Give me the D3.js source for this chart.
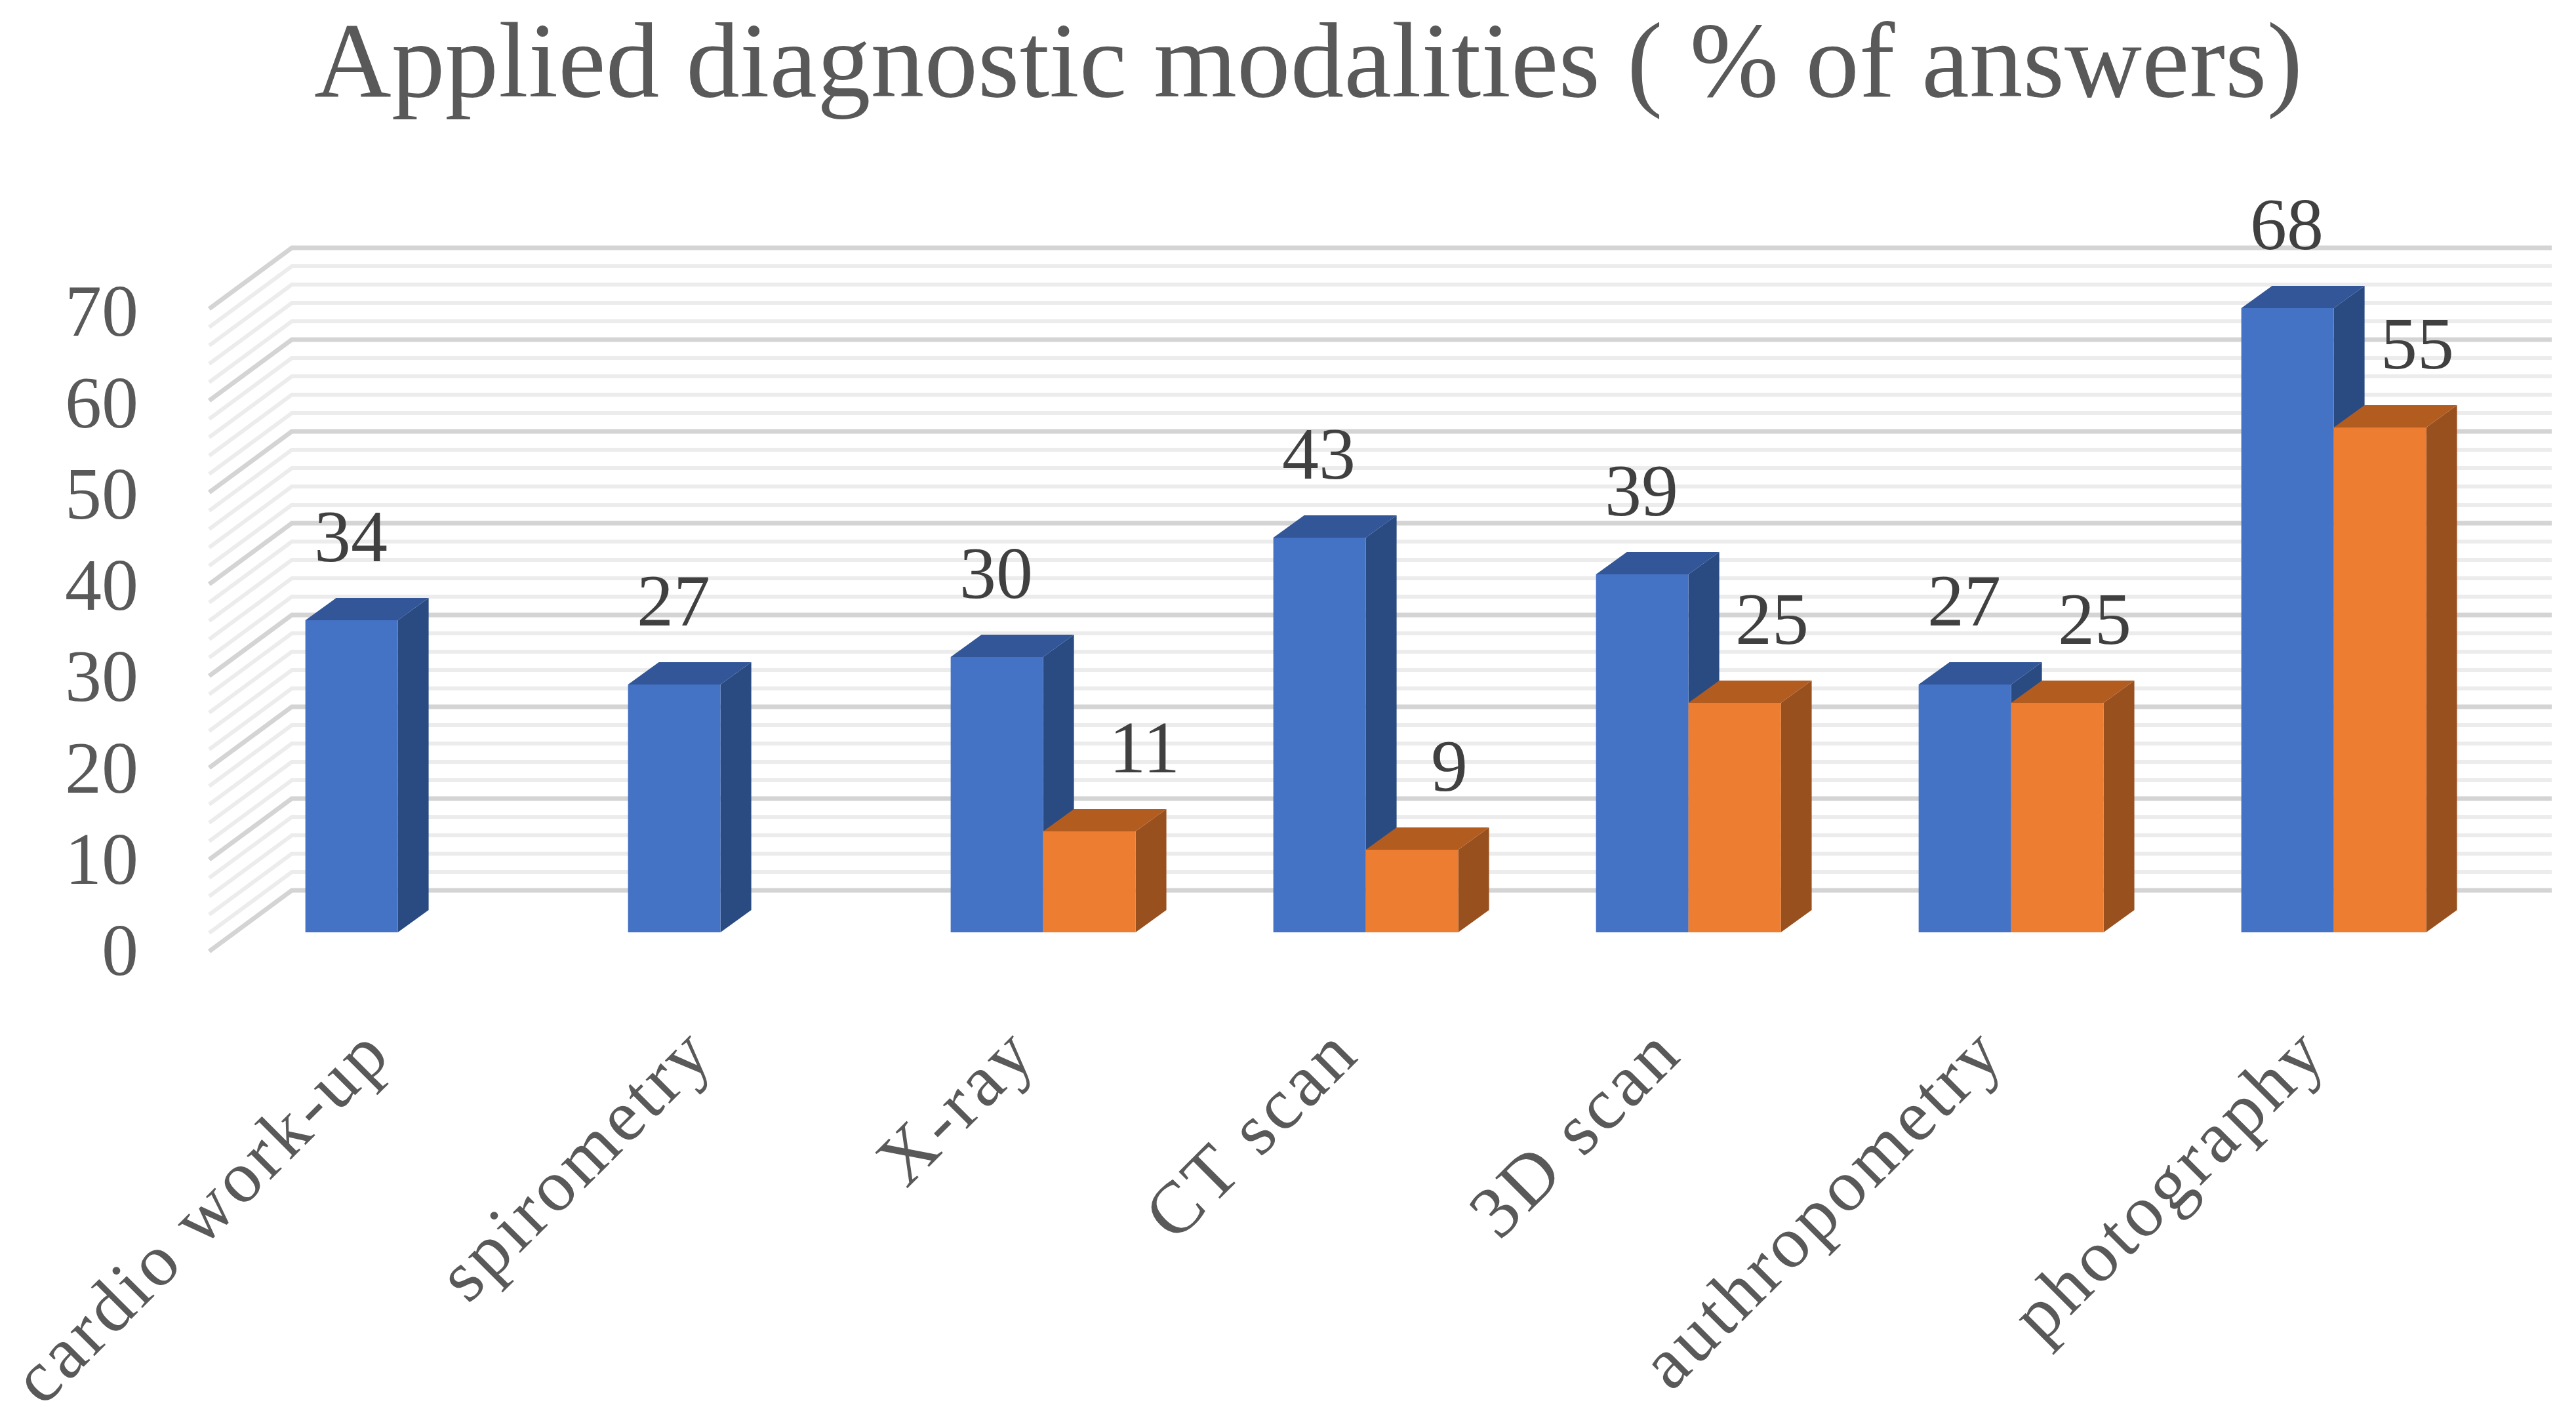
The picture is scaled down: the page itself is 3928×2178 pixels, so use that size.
<!DOCTYPE html>
<html>
<head>
<meta charset="utf-8">
<title>Applied diagnostic modalities</title>
<script src="https://d3js.org/d3.v7.min.js"></script>
<style>
  html, body { margin: 0; padding: 0; background: #fff; }
  svg { display: block; }
  text { font-family: "Liberation Serif", serif; }
  .xAxis .domain, .xAxis .tick line, .yAxis .domain, .yAxis .tick line { display: none; }
</style>
</head>
<body>
<svg width="3928" height="2178"></svg>
<script>
var categories = ["cardio work-up", "spirometry", "X-ray", "CT scan", "3D scan", "authropometry", "photography"];
var seriesA = [34, 27, 30, 43, 39, 27, 68];
var seriesB = [null, null, 11, 9, 25, 25, 55];
var yTicks = [0, 10, 20, 30, 40, 50, 60, 70];
var minorTicks = d3.range(0, 71, 2);
var titleText = "Applied diagnostic modalities ( % of answers)";

var svg = d3.select("svg");

var x0 = d3.scaleBand().domain(categories).range([360.6, 3804.6])
  .paddingInner(0.427).paddingOuter(0.2135);
var x1 = d3.scaleBand().domain(["a", "b"]).range([0, x0.bandwidth()]);
var y = d3.scaleLinear().domain([0, 70]).range([1422, 442]);
// tick labels sit on the front edge of the wall, slightly tighter than the bars
var yLabels = d3.scaleLinear().domain([0, 70]).range([1451, 476]);

// 3D offsets
var depthX = 47, depthY = 34;
var wallFrontX = 319, wallBackX = 445, wallRightX = 3891;
var wallFrontDy = 29, wallBackDy = -64;

svg.append("text")
  .attr("x", 1995).attr("y", 147)
  .attr("text-anchor", "middle")
  .attr("font-size", 163)
  .attr("fill", "#595959")
  .attr("textLength", 3032)
  .attr("lengthAdjust", "spacing")
  .text(titleText);

// walls: minor first so the major lines sit on top
var wall = svg.append("g").attr("fill", "none");
wall.selectAll("path.minor")
  .data(minorTicks.filter(function(d) { return d % 10 !== 0; }))
  .enter().append("path")
  .attr("class", "minor")
  .attr("stroke", "#ececec").attr("stroke-width", 6)
  .attr("d", function(d) {
    return "M" + wallFrontX + "," + (y(d) + wallFrontDy) + "L" + wallBackX + "," + (y(d) + wallBackDy) + "L" + wallRightX + "," + (y(d) + wallBackDy);
  });
wall.selectAll("path.major")
  .data(yTicks)
  .enter().append("path")
  .attr("class", "major")
  .attr("stroke", "#d4d4d4").attr("stroke-width", 7)
  .attr("d", function(d) {
    return "M" + wallFrontX + "," + (y(d) + wallFrontDy) + "L" + wallBackX + "," + (y(d) + wallBackDy) + "L" + wallRightX + "," + (y(d) + wallBackDy);
  });

// y axis
svg.append("g")
  .attr("class", "yAxis")
  .attr("transform", "translate(211,0)")
  .call(d3.axisLeft(yLabels).tickValues(yTicks).tickSize(0).tickPadding(0))
  .selectAll("text")
  .attr("font-size", 112)
  .attr("fill", "#595959");

// x axis
svg.append("g")
  .attr("class", "xAxis")
  .attr("transform", "translate(0,1560)")
  .call(d3.axisBottom(x0).tickSize(0).tickPadding(0))
  .selectAll("text")
  .attr("font-size", 112)
  .attr("letter-spacing", 5)
  .attr("fill", "#595959")
  .attr("text-anchor", "end")
  .attr("transform", "translate(-34,24) rotate(-45)")
  .attr("dy", "0.35em");

function drawBars(key, values, front, top, side) {
  var g = svg.append("g").attr("class", "series-" + key);
  categories.forEach(function(c, i) {
    var v = values[i];
    if (v === null) return;
    var l = x0(c) + x1(key), r = l + x1.bandwidth(), t = y(v), b = y(0);
    g.append("path").attr("fill", side)
      .attr("d", d3.line()([[r, t], [r + depthX, t - depthY], [r + depthX, b - depthY], [r, b]]) + "Z");
    g.append("path").attr("fill", top)
      .attr("d", d3.line()([[l, t], [l + depthX, t - depthY], [r + depthX, t - depthY], [r, t]]) + "Z");
    g.append("rect").attr("fill", front)
      .attr("x", l).attr("y", t).attr("width", r - l).attr("height", b - t);
  });
}
drawBars("a", seriesA, "#4472c4", "#325697", "#2a4a82");
drawBars("b", seriesB, "#ed7d31", "#b35c20", "#98501e");

function drawLabels(key, values, dx) {
  categories.forEach(function(c, i) {
    var v = values[i];
    if (v === null) return;
    var shift = (key === "b" && v === 11) ? 85 : dx;
    svg.append("text")
      .attr("x", x0(c) + x1(key) + x1.bandwidth() / 2 + shift - 1)
      .attr("y", y(v) - 90)
      .attr("text-anchor", "middle")
      .attr("font-size", 112)
      .attr("fill", "#404040")
      .text(v);
  });
}
drawLabels("a", seriesA, 0);
drawLabels("b", seriesB, 58);
</script>
</body>
</html>
